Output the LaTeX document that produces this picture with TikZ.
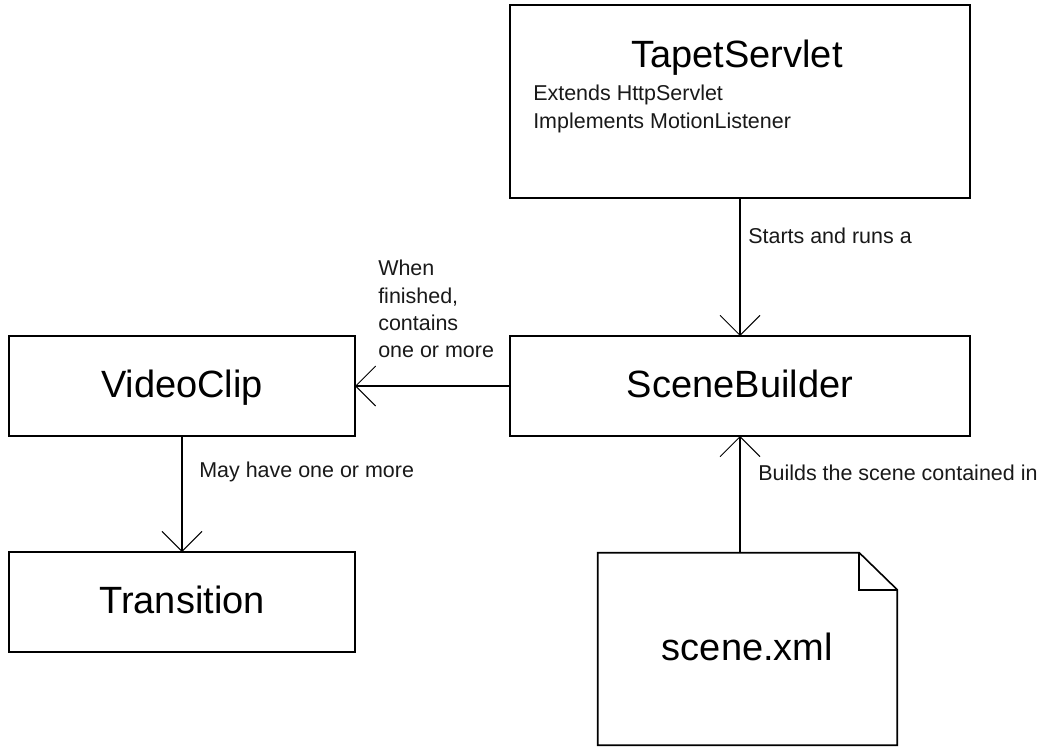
\documentclass[tikz,border=0pt]{standalone}
\usepackage{fontspec}
\setmainfont{Liberation Sans}
\usetikzlibrary{arrows.meta}
\begin{document}
\begin{tikzpicture}[
  x=0.75pt, y=-0.75pt,
  box/.style={draw=black, line width=1.2pt, rectangle, inner sep=0pt, outer sep=0pt},
  title/.style={font=\fontsize{28.5}{34}\selectfont, text height=20.25pt, text depth=3.75pt},
  note/.style={font=\fontsize{16.1}{20.5}\selectfont, inner sep=0pt, text=black!90},
  link/.style={line width=1.1pt, -{Straight Barb[length=15pt, width=30pt, line width=0.7pt]}}
]
% canvas
\fill[white] (0,0) rectangle (1044,746);
\useasboundingbox (0,0) rectangle (1044,746);

% class boxes
\node[box, minimum width=345pt, minimum height=144.75pt] (ts) at (740,101.5) {};
\node[title, anchor=base] (tstitle) at (737,67) {TapetServlet};
\node[note, anchor=north west, align=left, font=\fontsize{16.1}{21}\selectfont] (tsattr) at (533,85)
  {Extends HttpServlet\\Implements MotionListener};

\node[box, title, minimum width=345pt, minimum height=75pt] (sb) at (740,386) {SceneBuilder};
\node[box, title, minimum width=259.5pt, minimum height=75pt] (vc) at (182,386) {VideoClip};
\node[box, title, minimum width=259.5pt, minimum height=75pt] (tr) at (182,602) {Transition};

% document with folded corner
\node[title, inner sep=0pt, minimum width=224.25pt, minimum height=144pt] (xml) at (747.5,649) {scene.xml};
\coordinate (fold) at ([xshift=-28.5pt]xml.north east);
\coordinate (foldb) at ([yshift=-27.75pt]xml.north east);
\draw[line width=1.2pt, line join=miter]
  (xml.north west) -- (fold) -- (foldb) -- (xml.south east) -- (xml.south west) -- cycle;
\draw[line width=1.2pt] (fold) -- (fold |- foldb) -- (foldb);

% relations
\draw[link] (ts.south) -- (sb.north);
\draw[link] (sb.west) -- (vc.east);
\draw[link] (vc.south) -- (tr.north);
\coordinate (xmltop) at (sb.south |- xml.north);
\draw[link] (xmltop) -- (sb.south);

% relation labels
\node[note, anchor=base west] (l1) at (748,243) {Starts and runs a};
\node[note, anchor=north west, align=left] (l2) at (378,260) {When\\finished,\\contains\\one or more};
\node[note, anchor=base west] (l3) at (199,477) {May have one or more};
\node[note, anchor=base west] (l4) at (758,480) {Builds the scene contained in};
\end{tikzpicture}
\end{document}
